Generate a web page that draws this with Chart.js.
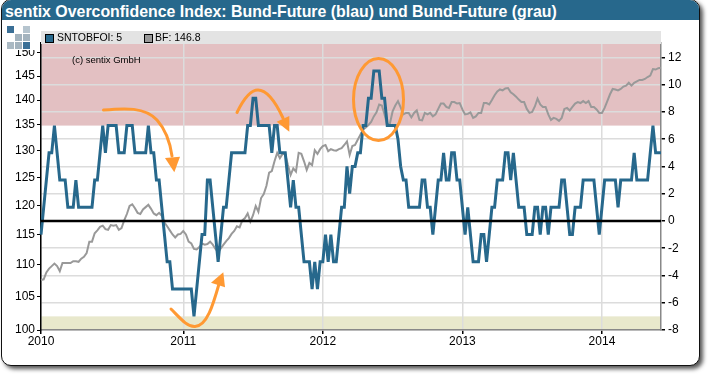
<!DOCTYPE html>
<html><head><meta charset="utf-8">
<script src="https://cdn.jsdelivr.net/npm/chart.js@4"></script>
<style>
html,body{margin:0;padding:0;background:#fff;width:710px;height:376px;overflow:hidden}
#card{position:absolute;left:1px;top:-1px;width:697px;height:365px;border:1.5px solid #111;border-radius:10px;background:#fff;box-shadow:3px 3px 4px #555;overflow:hidden}
#title{position:absolute;left:0;top:0;right:0;height:20px;background:#27688c;color:#fff;font:bold 15.9px "Liberation Sans",Arial,sans-serif;line-height:23px;padding-left:3px;white-space:nowrap}
canvas{position:absolute;left:0;top:0}
</style></head><body>
<div id="card"><div id="title">sentix Overconfidence Index: Bund-Future (blau) und Bund-Future (grau)</div></div>
<canvas id="c" width="710" height="376"></canvas>
<script>
const yearTicks=[0,53,105,157,209];
const yearLabels=['2010','2011','2012','2013','2014'];
const leftTicks=[100,105,110,115,120,125,130,135,140,145,150];
const rightTicks=[-8,-6,-4,-2,0,2,4,6,8,10,12];
const sntobfoi=[-1,1,3,5,5,7,5,3,3,3,
1,1,1,3,1,1,1,1,1,1,
3,3,5,7,5,7,7,7,7,5,
5,5,7,7,7,5,5,5,5,5,
7,5,5,3,3,1,-1,-3,-3,-5,
-5,-5,-5,-5,-5,-5,-5,-7,-5,-3,
-1,-1,3,3,1,-1,-3,-1,1,1,
3,5,5,5,5,5,5,7,7,9,
9,7,7,7,7,7,5,7,7,5,
5,5,3,1,3,1,1,-1,-3,-3,
-3,-5,-3,-5,-3,-3,-1,-3,-1,-3,
-3,-1,1,1,4,2,4,4,5,5,
7,7,9,9,11,11,11,9,9,7,
7,7,7,6,4,3,3,1,1,1,
1,1,3,3,1,1,-1,1,3,3,
5,3,3,5,5,3,3,1,-1,1,
-1,-3,-3,-3,-1,-1,-3,-1,1,1,
3,3,3,5,5,3,5,3,1,1,
1,-1,-1,-1,1,1,-1,1,1,-1,
1,1,1,1,3,3,1,-1,-1,1,
1,1,3,3,3,3,3,1,-1,1,
3,3,3,3,3,1,3,3,3,3,
3,5,3,3,3,3,3,5,7,5,5,5];
const bundFuture=[107.6,107.7,108.8,109.4,109.8,110.2,109.8,109.0,110.3,110.3,
110.3,110.3,110.6,110.6,110.5,111.0,111.3,111.9,113.8,113.8,
115.2,115.7,116.3,116.5,115.9,115.8,116.6,116.5,116.6,115.8,
116.1,117.4,118.5,119.9,120.2,119.5,118.7,118.5,119.3,119.7,
120.1,119.4,118.6,118.3,118.7,118.2,117.0,116.4,115.7,115.0,
114.5,115.0,115.1,115.6,115.0,113.8,113.5,112.6,112.5,112.9,
113.5,113.3,113.4,113.8,113.3,112.6,112.1,112.7,113.3,113.9,
114.4,115.1,115.6,116.4,116.2,117.4,117.8,118.6,117.2,118.3,
119.9,118.9,121.3,122.0,123.5,125.9,126.2,128.0,129.6,128.6,
129.4,129.3,127.3,125.5,126.7,126.1,129.6,129.4,128.0,126.4,
127.7,127.3,130.1,129.4,130.3,130.9,131.1,129.9,130.3,130.1,
130.0,130.3,130.5,131.1,131.8,129.2,130.9,131.1,132.1,133.1,
134.1,134.5,135.0,135.6,136.7,137.5,139.1,138.9,137.1,135.0,
135.3,137.7,138.9,139.8,138.5,137.1,137.4,137.4,136.5,137.4,
137.9,136.0,135.9,137.4,137.1,137.4,136.7,137.1,138.2,139.3,
139.3,138.6,138.4,139.6,139.6,139.3,139.4,138.1,137.1,137.2,
137.5,136.4,136.7,137.4,137.4,139.4,139.4,139.1,140.0,141.0,
141.8,142.2,142.0,142.4,142.5,141.6,141.2,140.7,140.1,139.6,
139.6,138.2,137.4,137.6,138.7,140.3,139.1,138.6,138.6,137.1,
136.0,136.4,136.2,135.8,136.4,138.2,138.4,137.9,138.6,139.3,
139.6,139.4,139.8,139.4,139.8,138.6,138.6,138.1,137.4,137.4,
138.4,139.8,141.2,142.3,142.2,142.0,142.3,142.8,143.0,143.6,
143.0,143.6,143.9,144.2,144.2,144.4,144.8,145.1,146.5,146.4,146.7,146.8];
const weeks=sntobfoi.map((_,i)=>String(i));
const FONT='"Liberation Sans",Arial,sans-serif';
const BLUE='#27688c',GREY='#999999',ORANGE='#ff9933';

const decor={id:'decor',
 beforeDraw(ch){const g=ch.ctx,a=ch.chartArea,r=ch.scales.yR;
  g.save();
  g.fillStyle='#e3c0c2';g.fillRect(a.left,a.top,a.right-a.left,r.getPixelForValue(7)-a.top);
  g.fillStyle='#e8e8cc';g.fillRect(a.left,r.getPixelForValue(-7),a.right-a.left,a.bottom-r.getPixelForValue(-7));
  g.restore();},
 afterDatasetsDraw(ch){const g=ch.ctx,a=ch.chartArea,r=ch.scales.yR,y0=r.getPixelForValue(0);
  g.save();g.strokeStyle='#000';g.lineWidth=2.5;g.beginPath();g.moveTo(a.left,y0);g.lineTo(a.right,y0);g.stroke();g.restore();},
 afterDraw(ch){const g=ch.ctx;g.save();
  g.fillStyle='#fff';g.fillRect(4,24,36,26);
  const cells=[[7,26,'#3a6f96'],[23,26,'#b5c4ce'],[15,34,'#a3b3be'],[23,34,'#a3b3be'],[7,42,'#aab9c3'],[15,42,'#a3b3be'],[23,42,'#3a6f96']];
  cells.forEach(c=>{g.fillStyle=c[2];g.fillRect(c[0],c[1],7,7);});
  g.fillStyle='#e3e3e3';g.fillRect(41,31,620,13);
  g.lineWidth=1;g.strokeStyle='#000';
  g.fillStyle=BLUE;g.fillRect(45.5,34.5,8,8);g.strokeRect(45.5,34.5,8,8);
  g.fillStyle=GREY;g.fillRect(144.5,34.5,8,8);g.strokeRect(144.5,34.5,8,8);
  g.fillStyle='#000';g.textBaseline='middle';g.textAlign='left';g.font='10.5px '+FONT;
  g.fillText('SNTOBFOI: '+sntobfoi[sntobfoi.length-1],57,38.5);
  g.fillText('BF: '+bundFuture[bundFuture.length-1].toFixed(1),155,38.5);
  g.font='9.5px '+FONT;g.fillText('(c) sentix GmbH',72,60.5);
  g.strokeStyle=ORANGE;g.fillStyle=ORANGE;g.lineWidth=3;g.lineCap='round';
  const tri=(a,b,c,d,e,f)=>{g.beginPath();g.moveTo(a,b);g.lineTo(c,d);g.lineTo(e,f);g.closePath();g.fill();};
  g.beginPath();g.moveTo(103.5,110);g.bezierCurveTo(125,108,145,107,157,120);g.bezierCurveTo(166,130,170,142,172,156);g.stroke();
  tri(165,158,180,156.7,174.3,172.3);
  g.beginPath();g.moveTo(237,112.5);g.bezierCurveTo(245,96,252,90,258,90);g.bezierCurveTo(268,90,276,103,283,118);g.stroke();
  tri(276.7,121.7,289.3,116,289.3,131.7);
  g.beginPath();g.moveTo(171,309);g.bezierCurveTo(180,318,187,327,195,326.5);g.bezierCurveTo(207,326,213,305,219,284);g.stroke();
  tri(211,282.7,223.3,272.3,225,287.3);
  g.beginPath();g.ellipse(378.5,99.5,25,41,0,0,Math.PI*2);g.stroke();
  g.restore();}
};

new Chart(document.getElementById('c'),{
 type:'line',
 data:{labels:weeks,datasets:[
  {label:'SNTOBFOI',data:sntobfoi,yAxisID:'yR',borderColor:BLUE,borderWidth:3,pointRadius:0,tension:0,order:1,borderJoinStyle:'miter'},
  {label:'BF',data:bundFuture,yAxisID:'yL',borderColor:GREY,borderWidth:2,pointRadius:0,tension:0,order:2}
 ]},
 options:{responsive:false,animation:false,
  layout:{padding:{top:43,left:0,right:0,bottom:0}},
  plugins:{legend:{display:false},title:{display:false},tooltip:{enabled:false}},
  scales:{
   x:{type:'category',offset:false,
     afterBuildTicks(s){s.ticks=yearTicks.map(v=>({value:v}));},
     afterFit(s){s.height=46;},
     grid:{color:'#dcdcdc',lineWidth:1.5,tickColor:'#000',tickLength:4,drawOnChartArea:true},
     border:{color:'#888',width:1.5},
     ticks:{autoSkip:false,maxRotation:0,minRotation:0,padding:0,color:'#000',font:{family:FONT,size:12},callback:(v,i)=>yearLabels[i]}},
   yL:{type:'logarithmic',position:'left',min:100,max:152.2,
     afterBuildTicks(s){s.ticks=leftTicks.map(v=>({value:v}));},
     afterFit(s){s.width=41;},
     grid:{drawOnChartArea:false,tickColor:'#000',tickLength:4},
     border:{color:'#000',width:1.5},
     ticks:{autoSkip:false,padding:2,color:'#000',font:{family:FONT,size:12},callback:v=>String(v)}},
   yR:{type:'linear',position:'right',min:-8,max:13.06,
     afterBuildTicks(s){s.ticks=rightTicks.map(v=>({value:v}));},
     afterFit(s){s.width=49;},
     grid:{color:'#dcdcdc',lineWidth:1.5,tickColor:'#000',tickLength:4},
     border:{color:'#888',width:1.5},
     ticks:{autoSkip:false,padding:3,color:'#000',font:{family:FONT,size:12},callback:v=>String(v)}}
  }},
 plugins:[decor]
});
</script>
</body></html>
